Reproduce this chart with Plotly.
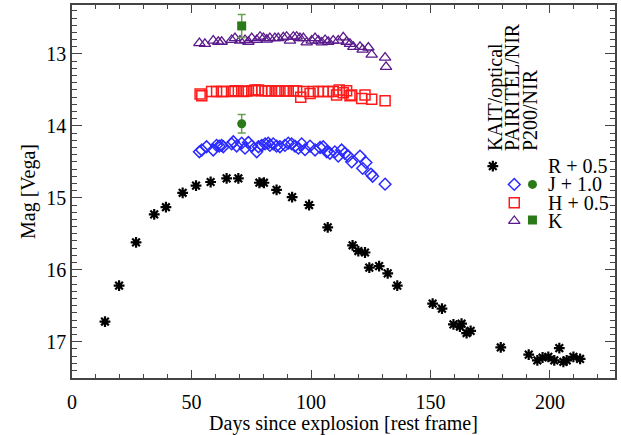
import plotly.graph_objects as go

# ---- data ----
r_days = [13.8, 19.7, 26.8, 34.4, 39.3, 46.3, 51.9, 58.0, 64.7, 69.6, 78.4, 80.3, 85.6,
          92.1, 99.2, 107.0, 117.4, 119.8, 122.6, 124.4, 128.5, 132.1, 136.1,
          150.9, 154.8, 159.6, 162.3, 163.0, 165.1, 166.8, 179.4, 191.1, 194.7, 196.9,
          199.3, 201.8, 203.9, 205.6, 207.0, 209.8, 212.6]
r_mag = [16.72, 16.22, 15.62, 15.23, 15.13, 14.93, 14.83, 14.78, 14.73, 14.73, 14.79, 14.79, 14.89,
         14.99, 15.10, 15.41, 15.66, 15.74, 15.76, 15.97, 15.95, 16.05, 16.22,
         16.47, 16.54, 16.76, 16.79, 16.75, 16.88, 16.85, 17.08, 17.18, 17.26, 17.22,
         17.21, 17.26, 17.09, 17.28, 17.26, 17.21, 17.24]

j_days = [53.3, 54.3, 56.3, 59.1, 60.5, 61.6, 62.6, 63.3, 66.8, 67.5, 68.9, 71.0, 72.4, 73.8,
          75.2, 77.3, 78.0, 79.4, 80.8, 82.1, 82.8, 84.2, 85.6, 87.0, 89.1, 90.5, 91.9, 93.3,
          94.7, 96.1, 97.5, 99.6, 101.7, 103.8, 105.1, 106.6, 107.9, 110.0, 111.4, 112.8,
          114.2, 115.6, 117.0, 120.5, 121.6, 123.0, 125.1, 125.8, 131.0]
j_mag = [14.36, 14.335, 14.29, 14.335, 14.27, 14.28, 14.27, 14.29, 14.25, 14.22, 14.28, 14.24,
         14.31, 14.23, 14.28, 14.36, 14.29, 14.27, 14.25, 14.24, 14.27, 14.25, 14.28, 14.29,
         14.27, 14.24, 14.25, 14.28, 14.31, 14.25, 14.33, 14.28, 14.335, 14.30, 14.29, 14.36,
         14.38, 14.36, 14.42, 14.335, 14.38, 14.42, 14.50, 14.42, 14.59, 14.51, 14.67, 14.70,
         14.81]

h_days = [53.6, 54.3, 58.4, 60.5, 62.6, 63.3, 66.8, 68.2, 69.6, 71.7, 73.1, 75.2, 76.6, 78.0,
          79.4, 80.8, 82.1, 83.5, 85.6, 87.0, 89.1, 90.5, 92.6, 94.0, 95.7, 96.8, 99.6, 101.0,
          103.1, 105.1, 107.2, 109.3, 110.7, 111.8, 113.5, 114.9, 116.3, 117.0, 121.2, 122.6,
          125.4, 131.0]
h_mag = [13.556, 13.58, 13.52, 13.52, 13.52, 13.52, 13.52, 13.51, 13.515, 13.52, 13.515, 13.51,
         13.50, 13.50, 13.51, 13.51, 13.51, 13.51, 13.515, 13.515, 13.515, 13.515, 13.51, 13.515,
         13.60, 13.52, 13.55, 13.52, 13.52, 13.52, 13.52, 13.52, 13.57, 13.50, 13.54, 13.51,
         13.58, 13.57, 13.62, 13.57, 13.63, 13.65]

k_days = [53.3, 55.6, 59.1, 61.2, 62.6, 66.8, 68.2, 70.3, 72.4, 73.8, 75.2, 77.3, 78.7, 80.1,
          81.5, 82.8, 84.9, 86.3, 88.4, 89.8, 91.2, 92.6, 94.0, 95.4, 96.8, 98.2, 100.3, 101.7,
          103.1, 104.5, 105.9, 107.2, 109.3, 111.4, 113.5, 114.9, 116.3, 117.7, 120.5, 121.6,
          124.0, 125.4, 131.0, 131.4]
k_mag = [12.85, 12.86, 12.815, 12.83, 12.83, 12.805, 12.78, 12.815, 12.805, 12.83, 12.78, 12.805,
         12.76, 12.78, 12.80, 12.78, 12.78, 12.78, 12.77, 12.76, 12.815, 12.76, 12.76, 12.78,
         12.78, 12.84, 12.815, 12.78, 12.815, 12.84, 12.805, 12.83, 12.815, 12.815, 12.77, 12.83,
         12.86, 12.90, 12.90, 12.94, 12.91, 13.01, 13.05, 13.18]

p200_j_days = [71.0]
p200_j_mag = [13.97]
p200_j_err = [0.13]
p200_k_days = [71.0]
p200_k_mag = [12.61]
p200_k_err = [0.16]

legend_labels = ["R + 0.5", "J + 1.0", "H + 0.5", "K"]
column_titles = ["KAIT/optical", "PAIRITEL/NIR", "P200/NIR"]

FONT = "Liberation Serif"
BLUE = "#2a2aff"
RED = "#ff1a1a"
PURPLE = "#5a1a8c"
GREEN = "#2a7a1a"
GREEN_ERR = "#6aa050"

fig = go.Figure()

fig.add_trace(go.Scatter(x=r_days, y=r_mag, mode="markers",
                         marker=dict(symbol="asterisk-open", size=9, color="black",
                                     line=dict(color="black", width=2.2))))
fig.add_trace(go.Scatter(x=j_days, y=j_mag, mode="markers",
                         marker=dict(symbol="diamond-open", size=9, color=BLUE,
                                     line=dict(color=BLUE, width=1.5))))
fig.add_trace(go.Scatter(x=h_days, y=h_mag, mode="markers",
                         marker=dict(symbol="square-open", size=10, color=RED,
                                     line=dict(color=RED, width=1.5))))
fig.add_trace(go.Scatter(x=k_days, y=k_mag, mode="markers",
                         marker=dict(symbol="triangle-up-open", size=10, color=PURPLE,
                                     line=dict(color=PURPLE, width=1.3))))
fig.add_trace(go.Scatter(x=p200_j_days, y=p200_j_mag, mode="markers",
                         error_y=dict(type="data", array=p200_j_err, color=GREEN_ERR,
                                      thickness=1.5, width=4),
                         marker=dict(symbol="circle", size=9, color=GREEN)))
fig.add_trace(go.Scatter(x=p200_k_days, y=p200_k_mag, mode="markers",
                         error_y=dict(type="data", array=p200_k_err, color=GREEN_ERR,
                                      thickness=1.5, width=4),
                         marker=dict(symbol="square", size=9, color=GREEN)))

# ---- legend (drawn on a hidden overlay axis in plot-fraction units) ----
leg_x = [0.775, 0.8145, 0.848, 0.8145, 0.8145, 0.848]
leg_y = [0.568, 0.519, 0.519, 0.470, 0.421, 0.4236]
leg_styles = [
    dict(symbol="asterisk-open", size=9, color="black", line=dict(color="black", width=2.2)),
    dict(symbol="diamond-open", size=9, color=BLUE, line=dict(color=BLUE, width=1.5)),
    dict(symbol="circle", size=9, color=GREEN),
    dict(symbol="square-open", size=10, color=RED, line=dict(color=RED, width=1.5)),
    dict(symbol="triangle-up-open", size=10, color=PURPLE, line=dict(color=PURPLE, width=1.3)),
    dict(symbol="square", size=9, color=GREEN),
]
for lx, ly, st in zip(leg_x, leg_y, leg_styles):
    fig.add_trace(go.Scatter(x=[lx], y=[ly], mode="markers", marker=st,
                             xaxis="x2", yaxis="y2", hoverinfo="skip"))

label_y = [0.568, 0.519, 0.470, 0.421]
for lab, ly in zip(legend_labels, label_y):
    fig.add_annotation(x=0.873, y=ly, xref="paper", yref="paper", text=lab,
                       showarrow=False, xanchor="left", yanchor="middle",
                       font=dict(family=FONT, size=20, color="black"))

col_x = [0.779, 0.810, 0.8435]
for t, cx in zip(column_titles, col_x):
    fig.add_annotation(x=cx, y=0.603, xref="paper", yref="paper", text=t,
                       showarrow=False, textangle=-90, xanchor="center", yanchor="bottom",
                       font=dict(family=FONT, size=20, color="black"))

axis_common = dict(showgrid=False, zeroline=False, showline=True, linecolor="#444",
                   linewidth=1.5, ticks="inside", mirror="ticks", tickcolor="#444",
                   automargin=False,
                   tickfont=dict(family=FONT, size=20, color="black"))

fig.update_layout(
    width=621, height=435,
    margin=dict(l=72, r=6, t=5, b=57),
    paper_bgcolor="white", plot_bgcolor="white",
    showlegend=False,
    font=dict(family=FONT, size=20, color="black"),
    xaxis=dict(range=[0, 227.2], dtick=50, tick0=0, ticklen=8, tickwidth=1.2,
               ticklabelstandoff=5,
               minor=dict(ticks="inside", dtick=10, ticklen=4, tickcolor="#444"),
               title=dict(text="Days since explosion [rest frame]", standoff=6,
                          font=dict(family=FONT, size=20)),
               **axis_common),
    yaxis=dict(range=[17.505, 12.319], dtick=1, tick0=13, ticklen=10, tickwidth=1.2,
               minor=dict(ticks="inside", dtick=0.1, ticklen=5, tickcolor="#444"),
               title=dict(text="Mag [Vega]", standoff=5, font=dict(family=FONT, size=20)),
               **axis_common),
    xaxis2=dict(range=[0, 1], overlaying="x", visible=False, anchor="y2"),
    yaxis2=dict(range=[0, 1], overlaying="y", visible=False, anchor="x2"),
)

# remove the browser's default 8px body margin so the figure fills the window exactly
fig.write_html("out.html", config={"displayModeBar": False},
               post_script="document.body.style.margin='0px';")
